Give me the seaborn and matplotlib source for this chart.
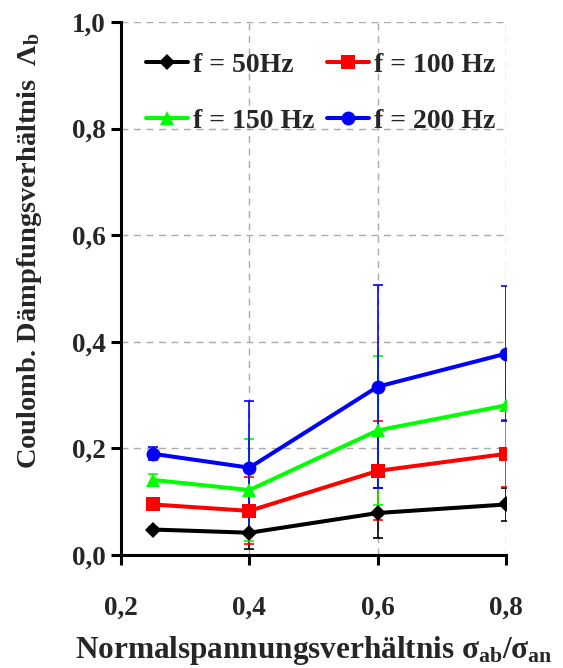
import pandas as pd
import matplotlib.pyplot as plt
import matplotlib.ticker as mticker
import seaborn as sns

# --- Daten ---
x_vals = [0.25, 0.4, 0.6, 0.8]
series = ['f = 50Hz', 'f = 100 Hz', 'f = 150 Hz', 'f = 200 Hz']
y_50 = [0.048, 0.042, 0.079, 0.095]
y_100 = [0.095, 0.083, 0.158, 0.190]
y_150 = [0.141, 0.122, 0.234, 0.281]
y_200 = [0.190, 0.164, 0.316, 0.378]
err_50 = [0.004, 0.031, 0.047, 0.031]
err_100 = [0.006, 0.063, 0.093, 0.063]
err_150 = [0.011, 0.095, 0.140, 0.095]
err_200 = [0.012, 0.126, 0.190, 0.126]

ys = [y_50, y_100, y_150, y_200]
errs = [err_50, err_100, err_150, err_200]
colors = ['black', '#ff0000', '#00ff00', '#0000ff']
markers = ['D', 's', '^', 'o']
msizes = [8.5, 9.5, 10, 10]

rows = []
for name, yv in zip(series, ys):
    for xv, v in zip(x_vals, yv):
        rows.append({'x': xv, 'y': v, 'Serie': name})
df = pd.DataFrame(rows)

sns.set_theme(style='white')
plt.rcParams['font.family'] = ['Liberation Serif', 'DejaVu Serif']
plt.rcParams['font.weight'] = 'bold'
plt.rcParams['mathtext.fontset'] = 'custom'
plt.rcParams['mathtext.rm'] = 'Liberation Serif:bold'
plt.rcParams['mathtext.it'] = 'Liberation Serif:bold'
plt.rcParams['mathtext.bf'] = 'Liberation Serif:bold'

fig = plt.figure(figsize=(5.63, 6.68), dpi=100)
ax = fig.add_axes([0.215, 0.169, 0.684, 0.798])

# Fehlerbalken zuerst (hinter den Linien)
for yv, ev, c in zip(ys, errs, colors):
    ax.errorbar(x_vals, yv, yerr=ev, fmt='none', ecolor=c, elinewidth=1.2,
                capsize=3.5, capthick=1.2, zorder=2)

n_before = len(ax.lines)
sns.lineplot(data=df, x='x', y='y', hue='Serie', style='Serie',
             palette=colors, markers=markers, dashes=False, lw=2.9,
             markeredgewidth=0, ax=ax, zorder=3, legend=False)
for line, ms in zip(ax.lines[n_before:], msizes):
    line.set_markersize(ms)

handles = [plt.Line2D([], [], color=c, marker=m, lw=2.9, markersize=ms,
                      markeredgewidth=0)
           for c, m, ms in zip(colors, markers, msizes)]
order = [0, 2, 1, 3]
ax.legend([handles[i] for i in order], [series[i] for i in order],
          loc='upper left', ncol=2, frameon=False,
          handlelength=1.5, handletextpad=0.2,
          columnspacing=0.45, labelspacing=1.1, bbox_to_anchor=(0.0, 0.99),
          prop={'weight': 'bold', 'size': 20})

ax.set_xlim(0.2, 0.8)
ax.set_ylim(0, 1.0)
ax.set_xticks([0.2, 0.4, 0.6, 0.8])
ax.set_yticks([0, 0.2, 0.4, 0.6, 0.8, 1.0])
fmt = mticker.FuncFormatter(lambda v, p: f'{v:.1f}'.replace('.', ','))
ax.xaxis.set_major_formatter(fmt)
ax.yaxis.set_major_formatter(fmt)
ax.grid(True, color='#aaaaaa', linestyle=(0, (5, 4)), lw=1)
for s in ['top', 'right']:
    ax.spines[s].set_visible(False)
for s in ['left', 'bottom']:
    ax.spines[s].set_color('black')
    ax.spines[s].set_linewidth(2.2)
ax.tick_params(axis='both', direction='out', length=7, width=2.2, color='black',
               labelsize=19.5, bottom=True, left=True)
ax.tick_params(axis='x', pad=22)
ax.tick_params(axis='y', pad=4)
for lab in ax.get_xticklabels() + ax.get_yticklabels():
    lab.set_fontweight('bold')

ax.set_xlabel(r'Normalspannungsverhältnis $\sigma_{\mathrm{ab}}/\sigma_{\mathrm{an}}$',
              fontsize=22.5, fontweight='bold', labelpad=10)
ax.set_ylabel(r'Coulomb. Dämpfungsverhältnis  $\Lambda_{\mathrm{b}}$',
              fontsize=20.5, fontweight='bold')
ax.yaxis.set_label_coords(-0.2, 0.572)

fig.savefig('out.png', dpi=100)
